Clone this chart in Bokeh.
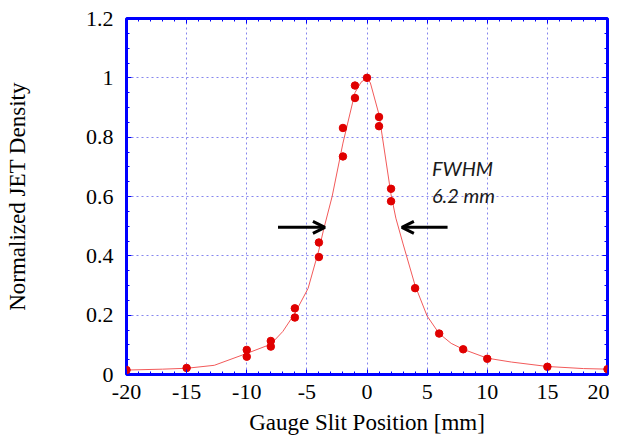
import numpy as np
from bokeh.plotting import figure
from bokeh.models import (FixedTicker, LinearAxis, Range1d, Arrow, OpenHead, Label,
                          Grid, CustomLabelingPolicy)
from bokeh.embed import file_html
from bokeh.resources import INLINE

# ---- data ----
pos_mm = [-20, -15, -10, -10, -8, -8, -6, -6, -4, -4, -2, -2, -1, -1, 0,
          1, 1, 2, 2, 4, 6, 8, 10, 15, 20]
density = [0.015, 0.022, 0.083, 0.060, 0.113, 0.094, 0.223, 0.192, 0.445, 0.396,
           0.831, 0.735, 0.974, 0.932, 1.0,
           0.868, 0.837, 0.626, 0.584, 0.291, 0.138, 0.085, 0.053, 0.026, 0.018]

fit_x = [-20, -17, -15, -12.7, -10, -8, -7, -6, -4.9, -4, -3.6, -2.9, -2, -1,
         -0.5, 0, 0.28, 1.0, 2.0, 2.4, 3, 4, 5, 6, 7, 8, 10, 12, 15, 18, 20]
fit_y = [0.015, 0.018, 0.021, 0.031, 0.071, 0.102, 0.145, 0.206, 0.29, 0.42,
         0.49, 0.60, 0.78, 0.95, 0.985, 1.0, 0.983, 0.876, 0.606, 0.527,
         0.44, 0.30, 0.197, 0.138, 0.105, 0.085, 0.055, 0.042, 0.027, 0.02, 0.018]

x_ticks = [-20, -15, -10, -5, 0, 5, 10, 15, 20]
x_tick_labels = ["-20", "-15", "-10", "-5", "0", "5", "10", "15", "20"]
y_ticks = [0, 0.2, 0.4, 0.6, 0.8, 1.0, 1.2]
y_tick_labels = ["0", "0.2", "0.4", "0.6", "0.8", "1", "1.2"]

x_title = "Gauge Slit Position [mm]"
y_title = "Normalized JET Density"
fwhm_text = ["FWHM", "6.2 mm"]
half_max_y = 0.496
arrow_left = (-7.4, -3.5)
arrow_right = (6.7, 2.9)

x_minor = list(np.arange(-20, 20.5, 1.0))
y_minor = list(np.round(np.arange(0, 1.2001, 0.05), 2))

BLUE = "#0000ff"
SERIF = "Liberation Serif"

p = figure(width=609, height=437, output_backend="svg", toolbar_location=None,
           x_range=Range1d(-20, 20), y_range=Range1d(0, 1.2),
           min_border_left=126, min_border_top=18, min_border_right=2,
           min_border_bottom=10, x_axis_location=None, y_axis_location=None)
p.background_fill_color = "white"
p.border_fill_color = "white"
p.outline_line_color = BLUE
p.outline_line_width = 3

xt = FixedTicker(ticks=x_ticks, minor_ticks=x_minor)
yt = FixedTicker(ticks=y_ticks, minor_ticks=y_minor)

no_labels = CustomLabelingPolicy(code="""
for (const i of Array.from(indices)) { indices.unset(i) }
return indices
""")

def style_axis(ax, labels):
    ax.axis_line_color = None
    ax.major_tick_line_color = BLUE
    ax.minor_tick_line_color = BLUE
    ax.major_tick_in = 5
    ax.major_tick_out = 0
    ax.minor_tick_in = 3
    ax.minor_tick_out = 0
    if labels:
        ax.major_label_text_font = SERIF
        ax.major_label_text_font_size = "22px"
        ax.major_label_text_color = "black"
        ax.axis_label_text_font = SERIF
        ax.axis_label_text_font_size = "23px"
        ax.axis_label_text_font_style = "normal"
        ax.axis_label_text_color = "black"
    else:
        ax.major_label_text_font_size = "0px"
        ax.major_label_policy = no_labels
        ax.major_label_standoff = 0
        ax.axis_label_standoff = 0

xb = LinearAxis(ticker=xt, axis_label=x_title,
                major_label_overrides=dict(zip(x_ticks, x_tick_labels)))
style_axis(xb, True)
xb.major_label_standoff = 10
xb.axis_label_standoff = 8
p.add_layout(xb, "below")

yl = LinearAxis(ticker=yt, axis_label=y_title,
                major_label_overrides=dict(zip(y_ticks, y_tick_labels)))
style_axis(yl, True)
yl.major_label_standoff = 13
yl.axis_label_standoff = 53
p.add_layout(yl, "left")

xa = LinearAxis(ticker=xt)
style_axis(xa, False)
p.add_layout(xa, "above")
ya = LinearAxis(ticker=yt)
style_axis(ya, False)
p.add_layout(ya, "right")

p.xgrid.visible = False
p.ygrid.visible = False
for dim, tk in ((0, xt), (1, yt)):
    p.add_layout(Grid(dimension=dim, ticker=tk, grid_line_color="#8686ee",
                      grid_line_alpha=1.0, grid_line_dash="2 3", grid_line_width=1))

p.line(fit_x, fit_y, line_color="#f25a5a", line_width=1)
p.scatter(pos_mm, density, size=7.5, fill_color="#e00000", line_color="#e00000")

for xs, xe in (arrow_left, arrow_right):
    p.add_layout(Arrow(end=OpenHead(size=12, line_width=3, line_color="black"),
                       x_start=xs, y_start=half_max_y, x_end=xe, y_end=half_max_y,
                       line_width=3, line_color="black"))

for txt, yy in zip(fwhm_text, (0.696, 0.605)):
    p.add_layout(Label(x=5.4, y=yy, text=txt, text_font="Lato",
                       text_font_size="20px", text_font_style="italic",
                       text_color="#1a1a1a", text_baseline="alphabetic"))

open("out.html", "w").write(file_html(p, INLINE))
